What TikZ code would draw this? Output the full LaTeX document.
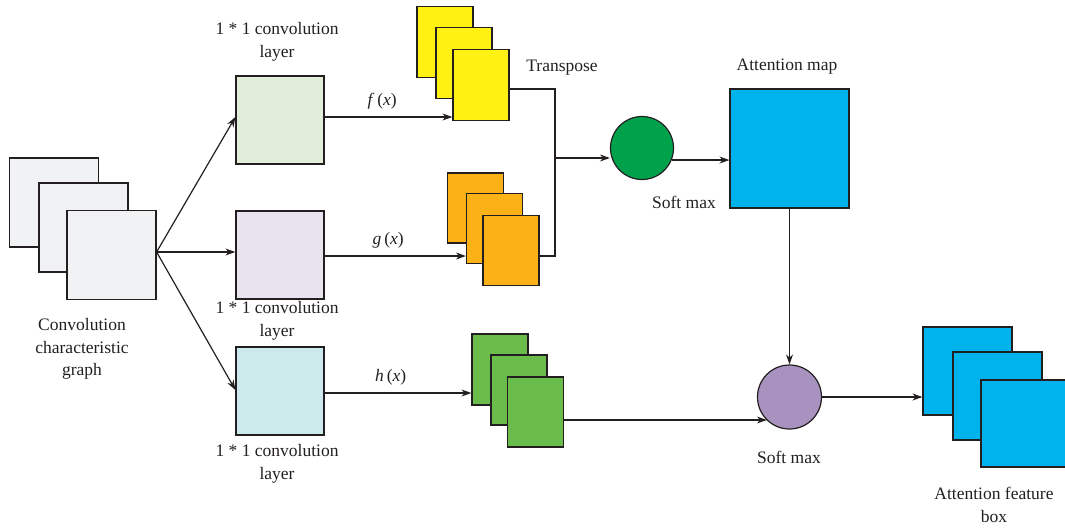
\documentclass[tikz,border=0pt]{standalone}
\usepackage{fontspec}
\setmainfont{Liberation Serif}
\usetikzlibrary{arrows.meta}
\definecolor{ink}{HTML}{231F20}
\definecolor{cgray}{HTML}{F1F2F4}
\definecolor{cgreen}{HTML}{E2EEDC}
\definecolor{cpurple}{HTML}{E7E3EF}
\definecolor{ccyan}{HTML}{CCE9EC}
\definecolor{cyellow}{HTML}{FFF212}
\definecolor{corange}{HTML}{FBB217}
\definecolor{cgreenf}{HTML}{6ABD4B}
\definecolor{cblue}{HTML}{00B3EC}
\definecolor{cgcircle}{HTML}{00A14B}
\definecolor{cpcircle}{HTML}{A893C0}
\tikzset{
  rbox/.style={draw=ink, line width=1.2pt, inner sep=0pt, rectangle},
  circ/.style={draw=ink, line width=1.2pt, inner sep=0pt, circle, minimum size=63pt},
  lbl/.style={text=ink, font=\fontsize{17.5}{22.5}\selectfont, align=center, inner sep=0pt},
  conn/.style={draw=ink, line width=1.2pt},
  arr/.style={conn, -{Stealth[length=10pt,width=7pt]}}
}
\begin{document}
\begin{tikzpicture}[x=1pt,y=-1pt]
\useasboundingbox (0,0) rectangle (1065,528);
% convolution characteristic graph
\node[rbox, fill=cgray, minimum width=89pt, minimum height=89pt] (c1) at (54,202.5) {};
\node[rbox, fill=cgray, minimum width=89pt, minimum height=89pt] (c2) at (83.5,227.5) {};
\node[rbox, fill=cgray, minimum width=89pt, minimum height=89pt] (c3) at (111.5,255) {};
\node[lbl] (tc) at (82,349) {Convolution\\characteristic\\graph};
% 1x1 conv layers
\node[rbox, fill=cgreen, minimum width=88pt, minimum height=88pt] (A) at (280,120) {};
\node[rbox, fill=cpurple, minimum width=88pt, minimum height=88pt] (B) at (280,255) {};
\node[rbox, fill=ccyan, minimum width=88pt, minimum height=88pt] (C) at (280,391) {};
\node[lbl] (tA) at (277,42) {1 * 1 convolution\\layer};
\node[lbl] (tB) at (277,321) {1 * 1 convolution\\layer};
\node[lbl] (tC) at (277,464) {1 * 1 convolution\\layer};
% yellow stack
\node[rbox, fill=cyellow, minimum width=56pt, minimum height=71pt] (y1) at (445,42) {};
\node[rbox, fill=cyellow, minimum width=56pt, minimum height=71pt] (y2) at (464,63) {};
\node[rbox, fill=cyellow, minimum width=56pt, minimum height=71pt] (y3) at (481,85) {};
\node[lbl] (tT) at (562,68) {Transpose};
% orange stack
\node[rbox, fill=corange, minimum width=56pt, minimum height=70pt] (o1) at (475.5,208) {};
\node[rbox, fill=corange, minimum width=56pt, minimum height=70pt] (o2) at (494.5,228.5) {};
\node[rbox, fill=corange, minimum width=56pt, minimum height=70pt] (o3) at (511,250.5) {};
% green stack
\node[rbox, fill=cgreenf, minimum width=56pt, minimum height=71pt] (g1) at (500,369.5) {};
\node[rbox, fill=cgreenf, minimum width=56pt, minimum height=70pt] (g2) at (519,390) {};
\node[rbox, fill=cgreenf, minimum width=56pt, minimum height=70pt] (g3) at (535.5,412) {};
% softmax 1 and attention map
\node[circ, fill=cgcircle] (S1) at (642,148) {};
\node[lbl] (tS1) at (684,202) {Soft max};
\node[rbox, fill=cblue, minimum width=119pt, minimum height=119pt] (M) at (789.5,148.5) {};
\node[lbl] (tM) at (787,67) {Attention map};
% softmax 2
\node[circ, fill=cpcircle, minimum size=64pt] (S2) at (789.5,397) {};
\node[lbl] (tS2) at (789,457) {Soft max};
% feature boxes
\node[rbox, fill=cblue, minimum width=89pt, minimum height=88pt] (F1) at (967.5,371) {};
\node[rbox, fill=cblue, minimum width=89pt, minimum height=88pt] (F2) at (997.5,396) {};
\node[rbox, fill=cblue, minimum width=89pt, minimum height=87pt] (F3) at (1025.5,423.5) {};
\node[lbl] (tF) at (994,505) {Attention feature\\box};
% connectors
\coordinate (src) at ([yshift=3pt]c3.east);
\draw[arr] (src) -- ([yshift=3pt]A.west);
\draw[arr] (src) -- ([yshift=3pt]B.west);
\draw[arr] (src) -- ([yshift=1pt]C.west);
\draw[arr] ([yshift=3pt]A.east) -- ([yshift=3pt]A.east -| y3.west) node[lbl, pos=0.45, above=7pt] (tf) {\textit{f}\,(\textit{x})};
\draw[arr] ([yshift=-1pt]B.east) -- ([yshift=-1pt]B.east -| o2.west) node[lbl, pos=0.45, above=7pt] (tg) {\textit{g}\,(\textit{x})};
\draw[arr] ([yshift=-2pt]C.east) -- ([yshift=-2pt]C.east -| g1.west) node[lbl, pos=0.45, above=7pt] (th) {\textit{h}\,(\textit{x})};
\coordinate (J) at (555,158);
\draw[conn] ([yshift=-4pt]y3.east) -| (J);
\draw[conn] ([yshift=-5.5pt]o3.east) -| (J);
\draw[arr] (J) -- (J -| S1.west);
\draw[arr] (S1.-22) -- (S1.-22 -| M.west);
\draw[arr] (M.south) -- (S2.north);
\draw[arr] ([yshift=-8pt]g3.east) -- ([yshift=-8pt]g3.east -| S2.226);
\draw[arr] (S2.east) -- (S2.east -| F1.west);
\end{tikzpicture}
\end{document}
